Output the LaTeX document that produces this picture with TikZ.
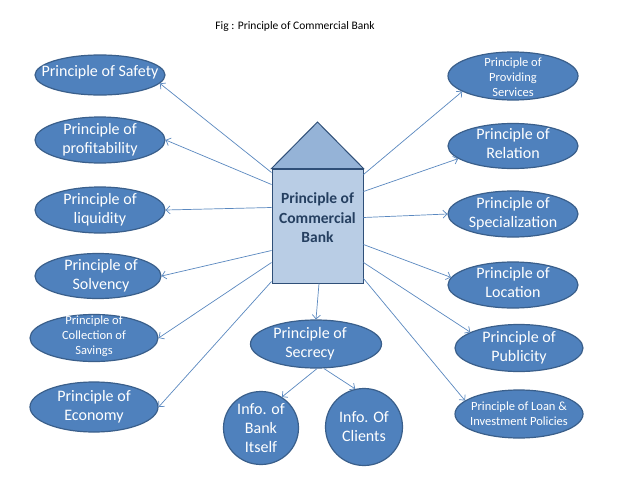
\documentclass[tikz,border=0pt]{standalone}
\usepackage{fontspec}
\setmainfont{Carlito}
\usetikzlibrary{shapes.geometric,arrows.meta}
\definecolor{ellfill}{HTML}{4F81BD}
\definecolor{elldraw}{HTML}{3A5F8B}
\definecolor{boxfill}{HTML}{B9CDE5}
\definecolor{rooffill}{HTML}{95B3D7}
\definecolor{boxdraw}{HTML}{2F4F78}
\definecolor{arr}{HTML}{5A88C0}
\begin{document}
\begin{tikzpicture}[x=1pt,y=-1pt,
  ell/.style={ellipse, draw=elldraw, fill=ellfill, line width=1.2pt, inner sep=0pt, minimum width=130pt, minimum height=44pt},
  big/.style={text=white, align=center, font=\fontsize{16}{19}\selectfont},
  small/.style={text=white, align=center, font=\fontsize{12.5}{15}\selectfont},
  con/.style={draw=arr, line width=0.7pt, -{Straight Barb[length=4pt,width=8pt]}}
]
\useasboundingbox (0,0) rectangle (640,479);
\fill[white] (0,0) rectangle (640,479);

\node[font=\fontsize{11.5}{13}\selectfont] (title) at (295,26) {Fig : Principle of Commercial Bank};

% central house
\node[draw=boxdraw, fill=boxfill, line width=1pt, minimum width=91pt, minimum height=114pt, inner sep=0pt] (bank) at (317.5,226) {};
\coordinate (apex) at (317.5,122);
\draw[draw=boxdraw, fill=rooffill, line width=1pt, line join=miter] (bank.north west) -- (apex) -- (bank.north east) -- cycle;
\node[align=center, text=boxdraw!80!black, font=\bfseries\fontsize{15.5}{19.5}\selectfont] (banktxt) at (317.5,218) {Principle of\\Commercial\\Bank};

% left column
\node[ell, minimum height=40pt] (saf) at (100,75) {};
\node[big] (saft) at ([yshift=3pt]saf) {Principle of Safety};
\node[ell, minimum height=46pt] (pro) at (100,140) {};
\node[big] (prot) at (pro) {Principle of\\profitability};
\node[ell, minimum height=46pt] (liq) at (100,210) {};
\node[big] (liqt) at (liq) {Principle of\\liquidity};
\node[ell, minimum width=126pt, minimum height=45pt] (sol) at (98,276) {};
\node[big] (solt) at ([xshift=3pt]sol) {Principle of\\Solvency};
\node[ell, minimum width=128pt, minimum height=47pt] (col) at (94,338) {};
\node[small] (colt) at ([yshift=2pt]col) {Principle of\\Collection of\\Savings};
\node[ell, minimum width=128pt, minimum height=50pt] (eco) at (94,407) {};
\node[big] (ecot) at (eco) {Principle of\\Economy};

% right column
\node[ell, minimum height=48pt] (psv) at (513,76) {};
\node[small] (psvt) at ([yshift=-1pt]psv) {Principle of\\Providing\\Services};
\node[ell, minimum height=45pt] (rel) at (513,146) {};
\node[big] (relt) at ([yshift=2pt]rel) {Principle of\\Relation};
\node[ell, minimum height=46pt] (spe) at (513,214) {};
\node[big] (spet) at (spe) {Principle of\\Specialization};
\node[ell, minimum height=46pt] (loc) at (513,285) {};
\node[big] (loct) at ([yshift=2pt]loc) {Principle of\\Location};
\node[ell, minimum width=128pt, minimum height=47pt] (pub) at (519,348) {};
\node[big] (pubt) at (pub) {Principle of\\Publicity};
\node[ell, minimum width=128pt, minimum height=48pt] (loan) at (519,414) {};
\node[small] (loant) at (loan) {Principle of Loan \&\\Investment Policies};

% bottom
\node[ell, minimum width=131pt, minimum height=48pt] (sec) at (316,344) {};
\node[big] (sect) at ([xshift=-6pt]sec) {Principle of\\Secrecy};
\node[ell, minimum width=75pt, minimum height=73pt] (ib) at (261,428) {};
\node[big] (ibt) at (ib) {Info. of\\Bank\\Itself};
\node[ell, minimum width=77pt, minimum height=77pt] (ic) at (364,427) {};
\node[big] (ict) at (ic) {Info. Of\\Clients};

% connectors
\draw[con] ([yshift=-4pt]bank.north west) -- (saf.-8);
\draw[con] ([yshift=-16pt]bank.north west) -- (pro.east);
\draw[con] ([yshift=-39pt]bank.north west) -- (liq.east);
\draw[con] ([yshift=-82pt]bank.north west) -- (sol.east);
\draw[con] ([yshift=-94pt]bank.north west) -- (col.east);
\draw[con] ([yshift=-113pt]bank.north west) -- (eco.east);
\draw[con] ([yshift=-6pt]bank.north east) -- (psv.197);
\draw[con] ([yshift=-23pt]bank.north east) -- (rel.193);
\draw[con] ([yshift=-49pt]bank.north east) -- (spe.west);
\draw[con] ([yshift=-76pt]bank.north east) -- (loc.173);
\draw[con] ([yshift=-94pt]bank.north east) -- (pub.162);
\draw[con] ([yshift=-110pt]bank.north east) -- (loan.166);
\draw[con] ([xshift=1.5pt]bank.south) -- (sec.north);
\draw[con] ([xshift=1pt]sec.south) -- (ib.56);
\draw[con] ([xshift=8pt]sec.south) -- (ic.103);
\end{tikzpicture}
\end{document}
